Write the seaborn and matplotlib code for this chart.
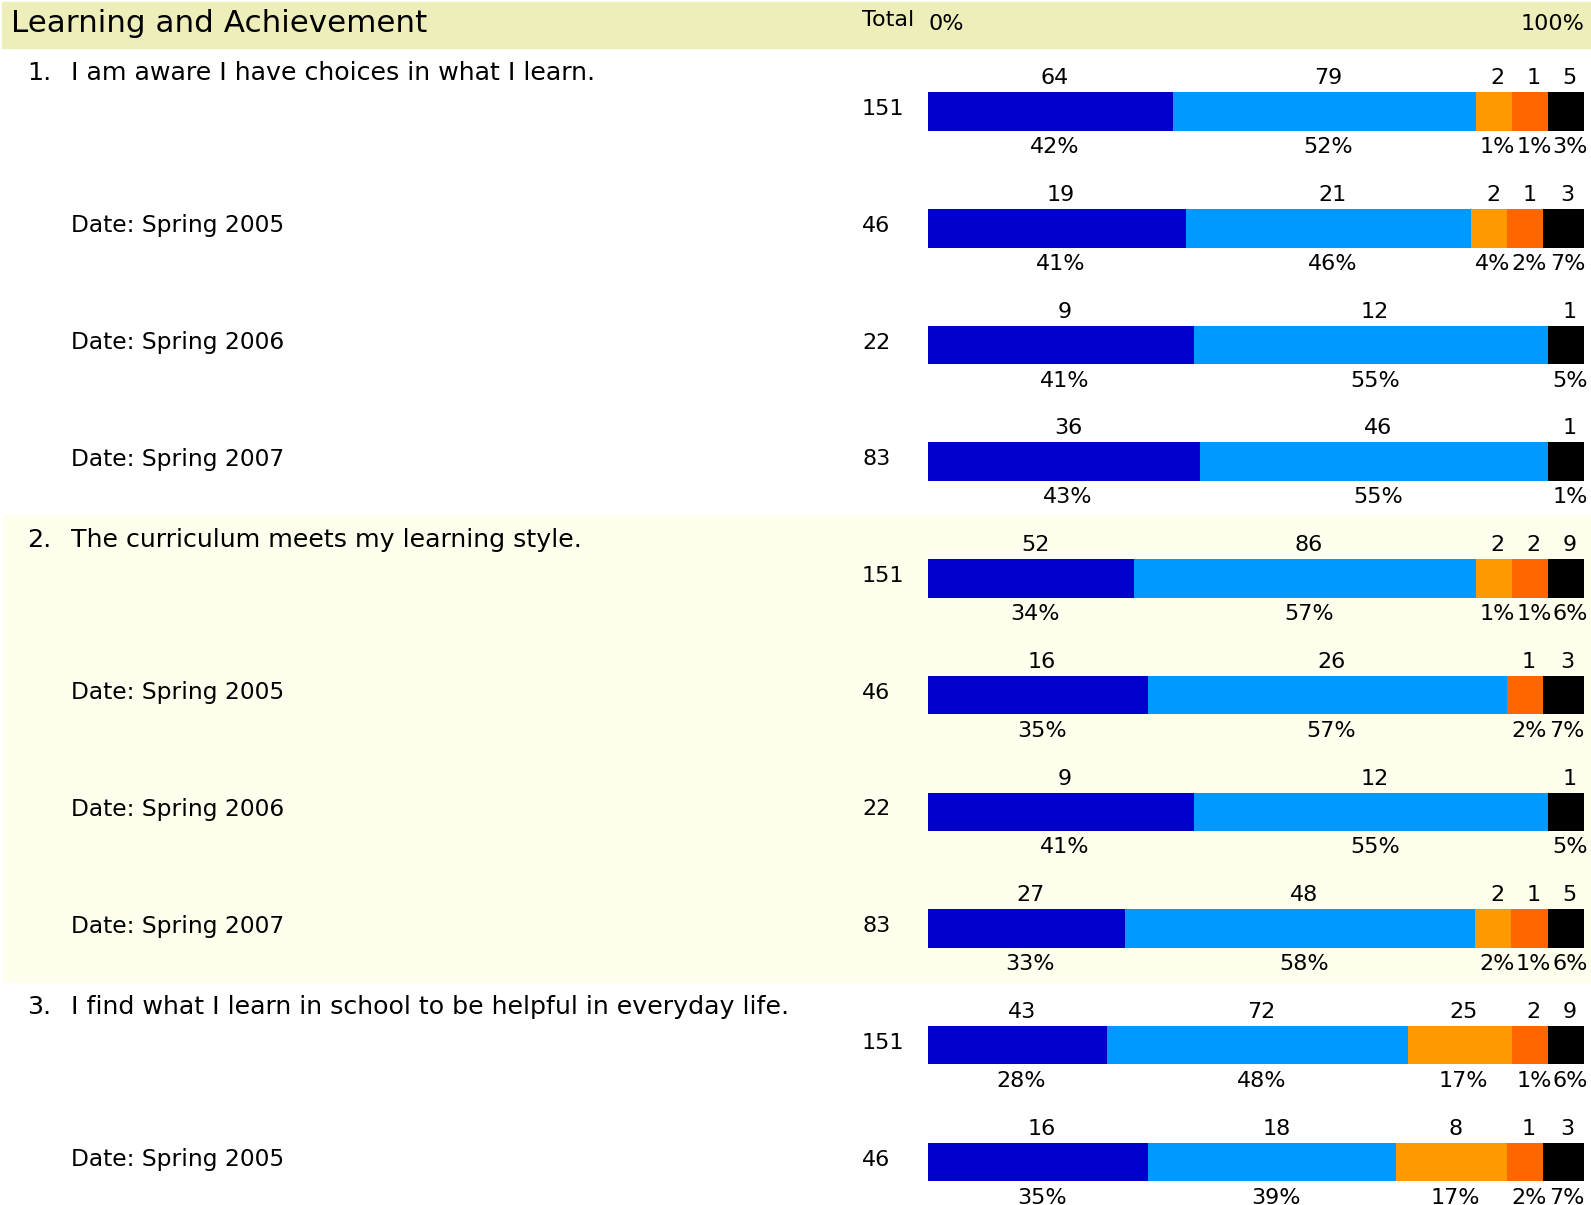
import numpy as np
import pandas as pd
import matplotlib
matplotlib.use('Agg')
import matplotlib.pyplot as plt
import matplotlib.transforms as mtransforms
from matplotlib.patches import Rectangle
import seaborn as sns

# survey rows: question header rows and the date breakdowns
questions = ['I am aware I have choices in what I learn.',
             'The curriculum meets my learning style.',
             'I find what I learn in school to be helpful in everyday life.']
question_rows = [0, 4, 8]
row_labels = ['', 'Spring 2005', 'Spring 2006', 'Spring 2007',
              '', 'Spring 2005', 'Spring 2006', 'Spring 2007',
              '', 'Spring 2005']
totals = [151, 46, 22, 83, 151, 46, 22, 83, 151, 46]

# counts per response category (left to right in the bar)
cat1 = [64, 19, 9, 36, 52, 16, 9, 27, 43, 16]
cat2 = [79, 21, 12, 46, 86, 26, 12, 48, 72, 18]
cat3 = [2, 2, 0, 0, 2, 0, 0, 2, 25, 8]
cat4 = [1, 1, 0, 0, 2, 1, 0, 1, 2, 1]
cat5 = [5, 3, 1, 1, 9, 3, 1, 5, 9, 3]

colors = ['#0000CC', '#0099FF', '#FF9900', '#FF6600', '#000000']

sns.set_theme(style='white')
plt.rcParams['font.family'] = ['DejaVu Sans']
plt.rcParams['text.color'] = 'black'

counts = np.array([cat1, cat2, cat3, cat4, cat5], dtype=float).T
tot = np.array(totals, dtype=float)
n_rows = len(totals)
row_ids = ['r%d' % i for i in range(n_rows)]


# small segments get a minimum width, the rest share what is left
def seg_widths(c, t, mn=0.055, thr=0.06):
    fr = c / t
    small = (fr > 0) & (fr < thr)
    big = (fr > 0) & ~small
    w = np.zeros_like(c)
    w[small] = mn
    w[big] = c[big] / c[big].sum() * (1 - mn * small.sum())
    return w

widths = np.array([seg_widths(counts[i], tot[i]) for i in range(n_rows)])
ends = np.cumsum(widths, axis=1)

fig = plt.figure(figsize=(15.91, 12.05), dpi=100)
ax = fig.add_axes([928 / 1591, 0, 656 / 1591, 1 - 53.25 / 1205])

# stacked bars: draw the cumulative ends from the last category back
for j in range(4, -1, -1):
    df = pd.DataFrame({'row': row_ids, 'end': ends[:, j]})
    sns.barplot(data=df, x='end', y='row', order=row_ids, orient='h',
                color=colors[j], saturation=1, width=0.33, linewidth=0,
                errorbar=None, ax=ax)

ax.set_xlim(0, 1)
ax.set_ylim(9.369, -0.5)
ax.axis('off')

blend = mtransforms.blended_transform_factory(fig.transFigure, ax.transData)

# header band and section shading
fig.patches.append(Rectangle((2 / 1591, 1 - 48 / 1205), 1 - 2 / 1591, 46 / 1205,
                             transform=fig.transFigure, color='#EEEEBB', zorder=0))
ax.add_patch(Rectangle((3 / 1591, 3.46), 1, 4.0, transform=blend,
                       color='#FFFFEE', clip_on=False, zorder=0))

fig.text(11 / 1591, 1 - 24 / 1205, 'Learning and Achievement', fontsize=22.3,
         va='center', ha='left')
fig.text(862 / 1591, 1 - 20 / 1205, 'Total', fontsize=16,
         va='center', ha='left')
fig.text(928 / 1591, 1 - 24 / 1205, '0%', fontsize=16,
         va='center', ha='left')
fig.text(1584 / 1591, 1 - 24 / 1205, '100%', fontsize=16,
         va='center', ha='right')

for k, (q, r) in enumerate(zip(questions, question_rows)):
    ax.text(27 / 1591, r - 0.33, '%d.' % (k + 1), transform=blend, fontsize=18.2,
            va='center', ha='left', clip_on=False)
    ax.text(71 / 1591, r - 0.33, q, transform=blend, fontsize=18.2,
            va='center', ha='left', clip_on=False)

for i in range(n_rows):
    if row_labels[i]:
        ax.text(71 / 1591, i - 0.02, 'Date: ' + row_labels[i], transform=blend,
                fontsize=16.8, va='center', ha='left', clip_on=False)
    ax.text(862 / 1591, i - 0.02, str(totals[i]), transform=blend, fontsize=16,
            va='center', ha='left', clip_on=False)
    for j in range(5):
        if counts[i, j] == 0:
            continue
        xc = ends[i, j] - widths[i, j] / 2 + 0.006
        ax.text(xc, i - 0.285, '%d' % counts[i, j], fontsize=16,
                ha='center', va='center', clip_on=False)
        ax.text(xc, i + 0.305, '%d%%' % round(100 * counts[i, j] / tot[i]),
                fontsize=16, ha='center', va='center', clip_on=False)

fig.savefig('out.png', dpi=100)
